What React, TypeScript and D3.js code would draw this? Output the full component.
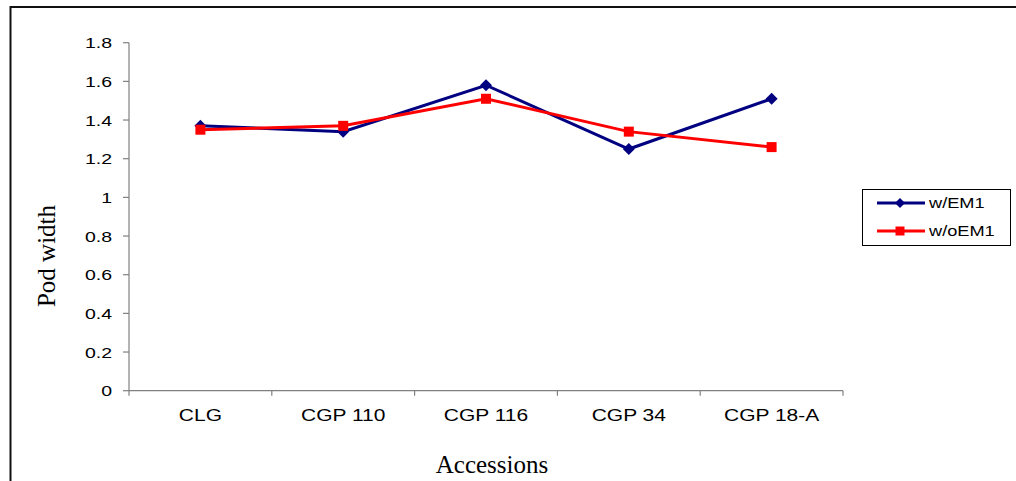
import React from "react";
import * as d3 from "d3";

const categories = ["CLG", "CGP 110", "CGP 116", "CGP 34", "CGP 18-A"];
const withEM1 = [1.37, 1.34, 1.58, 1.25, 1.51];
const withoutEM1 = [1.35, 1.37, 1.51, 1.34, 1.26];
const yTicks = [0, 0.2, 0.4, 0.6, 0.8, 1, 1.2, 1.4, 1.6, 1.8];
const seriesNames = ["w/EM1", "w/oEM1"];

const W = 1016;
const H = 481;
const plot = { left: 129, right: 843, top: 42.7, bottom: 390.7 };
const sans = "'Liberation Sans', Arial, sans-serif";
const serif = "'Liberation Serif', 'Times New Roman', serif";
const stretch = 1.3;

export default function App() {
  const x = d3
    .scaleBand<string>()
    .domain(categories)
    .range([plot.left, plot.right]);
  const y = d3.scaleLinear().domain([0, 1.8]).range([plot.bottom, plot.top]);
  const cx = (c: string) => (x(c) ?? 0) + x.bandwidth() / 2;

  const line = d3
    .line<number>()
    .x((_, i) => cx(categories[i]))
    .y((d) => y(d));

  const diamond = (px: number, py: number, r: number) =>
    `M${px},${py - r}L${px + r},${py}L${px},${py + r}L${px - r},${py}Z`;

  const boundaries = [...categories.map((c) => x(c) ?? 0), plot.right];

  const legendRows = [
    { name: seriesNames[0], color: "#000080", kind: "diamond" },
    { name: seriesNames[1], color: "#ff0000", kind: "square" },
  ];

  return (
    <svg
      width={W}
      height={H}
      style={{ position: "absolute", left: 0, top: 0, background: "#fff" }}
    >
      {/* outer frame */}
      <line x1={10.5} y1={7} x2={W} y2={7} stroke="#111" strokeWidth={2} />
      <line x1={10.5} y1={6} x2={10.5} y2={H} stroke="#111" strokeWidth={2} />

      {/* y axis */}
      <line
        x1={plot.left}
        x2={plot.left}
        y1={plot.top}
        y2={plot.bottom}
        stroke="#808080"
        strokeWidth={1.2}
      />
      {yTicks.map((t) => (
        <g key={t}>
          <line
            x1={plot.left - 6}
            x2={plot.left}
            y1={y(t)}
            y2={y(t)}
            stroke="#808080"
            strokeWidth={1.2}
          />
          <text
            transform={`translate(112,${y(t) + 5.5}) scale(${stretch},1)`}
            textAnchor="end"
            fontFamily={sans}
            fontSize={15}
            fill="#000"
          >
            {d3.format("~g")(t)}
          </text>
        </g>
      ))}

      {/* x axis */}
      <line
        x1={plot.left}
        x2={plot.right}
        y1={plot.bottom}
        y2={plot.bottom}
        stroke="#808080"
        strokeWidth={1.2}
      />
      {boundaries.map((b, i) => (
        <line
          key={i}
          x1={b}
          x2={b}
          y1={plot.bottom}
          y2={plot.bottom + 5}
          stroke="#808080"
          strokeWidth={1.2}
        />
      ))}
      {categories.map((c) => (
        <text
          key={c}
          transform={`translate(${cx(c)},421) scale(${stretch * 0.95},1)`}
          textAnchor="middle"
          fontFamily={sans}
          fontSize={17}
          fill="#000"
        >
          {c}
        </text>
      ))}

      {/* series */}
      <path d={line(withEM1) ?? ""} fill="none" stroke="#000080" strokeWidth={3} />
      <path d={line(withoutEM1) ?? ""} fill="none" stroke="#ff0000" strokeWidth={3} />
      {withEM1.map((v, i) => (
        <path key={"a" + i} d={diamond(cx(categories[i]), y(v), 6)} fill="#000080" />
      ))}
      {withoutEM1.map((v, i) => (
        <rect
          key={"b" + i}
          x={cx(categories[i]) - 5}
          y={y(v) - 5}
          width={10}
          height={10}
          fill="#ff0000"
        />
      ))}

      {/* axis titles */}
      <text
        transform="translate(55,256) rotate(-90)"
        textAnchor="middle"
        fontFamily={serif}
        fontSize={25}
        fill="#000"
      >
        Pod width
      </text>
      <text
        x={492}
        y={473}
        textAnchor="middle"
        fontFamily={serif}
        fontSize={25}
        fill="#000"
      >
        Accessions
      </text>

      {/* legend */}
      <rect
        x={862.5}
        y={189.5}
        width={148}
        height={56}
        fill="#fff"
        stroke="#000"
        strokeWidth={1}
      />
      {legendRows.map((r, i) => {
        const ly = 203 + i * 28;
        return (
          <g key={r.name}>
            <line x1={877} x2={925} y1={ly} y2={ly} stroke={r.color} strokeWidth={3} />
            {r.kind === "diamond" ? (
              <path d={diamond(900, ly, 5)} fill={r.color} />
            ) : (
              <rect x={895.5} y={ly - 4.5} width={9} height={9} fill={r.color} />
            )}
            <text
              transform={`translate(929,${ly + 5}) scale(${stretch},1)`}
              fontFamily={sans}
              fontSize={14}
              fill="#000"
            >
              {r.name}
            </text>
          </g>
        );
      })}
    </svg>
  );
}
